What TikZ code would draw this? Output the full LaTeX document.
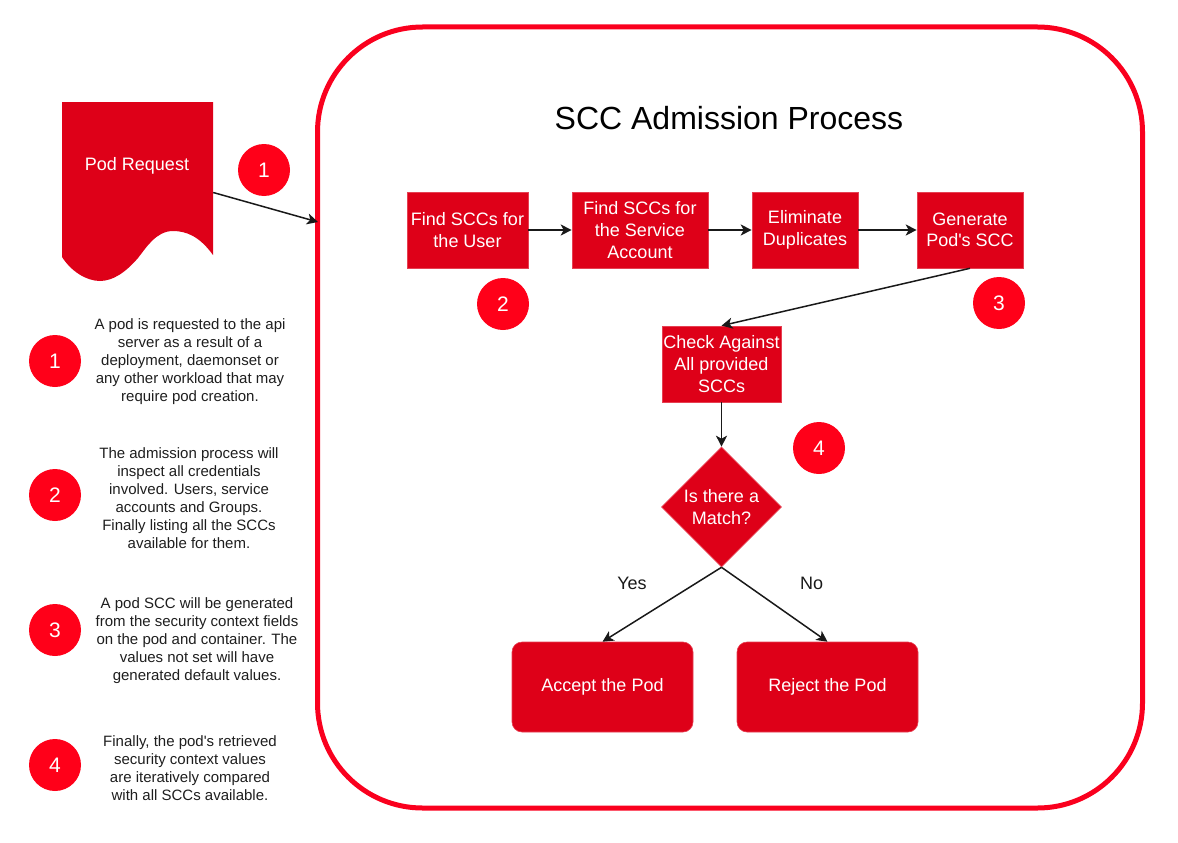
\documentclass[tikz,border=0pt]{standalone}
\usepackage{fontspec}
\setmainfont{Liberation Sans}
\usetikzlibrary{shapes.geometric,arrows.meta}

\definecolor{boxred}{RGB}{222,0,24}
\definecolor{dotred}{RGB}{255,0,25}
\definecolor{framered}{RGB}{250,0,30}
\definecolor{legendtext}{RGB}{30,30,30}

\tikzset{
  stepbox/.style={rectangle, fill=boxred, draw=boxred!75!white, line width=0.6pt,
    inner sep=0pt, text=white, align=center,
    font=\fontsize{18}{21.6}\selectfont},
  roundbox/.style={stepbox, rounded corners=10pt},
  decision/.style={diamond, shape aspect=1, fill=boxred, draw=boxred!75!white, line width=0.6pt,
    inner sep=0pt, minimum width=120pt, minimum height=120pt, text=white, align=center,
    font=\fontsize{18}{21.6}\selectfont},
  badge/.style={circle, fill=dotred, minimum size=52pt, inner sep=0pt, text=white,
    font=\fontsize{21}{24}\selectfont},
  legend/.style={align=center, text=legendtext, font=\fontsize{15}{18}\selectfont},
  flow/.style={line width=1.5pt, draw=black!90, -{Stealth[length=11pt,width=11pt,inset=3pt]}},
  label/.style={font=\fontsize{18}{21.6}\selectfont, text=black!90},
}

\begin{document}
\begin{tikzpicture}[x=1pt, y=-1pt]
  \useasboundingbox (0,0) rectangle (1178,843);

  % outer frame of the admission process
  \node (frame) [draw=framered, line width=5pt, rounded corners=105pt,
    minimum width=825pt, minimum height=781pt, inner sep=0pt] at (730,417.5) {};
  \node (title) [font=\fontsize{32}{38}\selectfont] at (729,118) {SCC Admission Process};

  % incoming pod request (document shape)
  \node (pod) [minimum width=151pt, minimum height=155pt, inner sep=0pt] at (137.5,179.5) {};
  \fill[boxred] (62,102) -- (213,102) -- (213,255)
    .. controls (200,237) and (187,231) .. (173,231)
    .. controls (156,231) and (146,248) .. (138,258)
    .. controls (126,272) and (113,281) .. (100,281)
    .. controls (86,281) and (71,271) .. (62,257) -- cycle;
  \node (podtext) [text=white, font=\fontsize{18}{21.6}\selectfont] at (137,166) {Pod Request};
  \coordinate (entry) at (318,222);
  \draw[flow] ([yshift=-13pt]pod.east) -- (entry);

  % process steps
  \node (user) [stepbox, minimum width=121pt, minimum height=76pt] at (467.5,230) {Find SCCs for\\the User};
  \node (svc) [stepbox, minimum width=136pt, minimum height=76pt] at (640,230) {Find SCCs for\\the Service\\Account};
  \node (dedup) [stepbox, minimum width=106pt, minimum height=76pt] at (805,230) {Eliminate\\Duplicates};
  \node (gen) [stepbox, minimum width=106pt, minimum height=76pt] at (970,230) {Generate\\Pod\textquotesingle s SCC};
  \node (check) [stepbox, minimum width=119pt, minimum height=76pt] at (721.5,364) {Check Against\\All provided\\SCCs};
  \node (match) [decision] at (721.5,507) {Is there a\\Match?};
  \node (accept) [roundbox, minimum width=181pt, minimum height=90pt] at (602.5,687) {Accept the Pod};
  \node (reject) [roundbox, minimum width=181pt, minimum height=90pt] at (827.5,687) {Reject the Pod};

  \draw[flow] (user) -- (svc);
  \draw[flow] (svc) -- (dedup);
  \draw[flow] (dedup) -- (gen);
  \draw[flow] (gen.south) -- (check.north);
  \draw[flow] (check.south) -- (match.north);
  \draw[flow] (match.south) -- (accept.north);
  \draw[flow] (match.south) -- (reject.north);
  \node (yes) [label] at (632,583) {Yes};
  \node (no) [label] at (811.5,583) {No};

  % step markers
  \node (m1) [badge] at (264,170) {1};
  \node (m2) [badge] at (503,304) {2};
  \node (m3) [badge] at (999,303) {3};
  \node (m4) [badge] at (819,448) {4};

  % legend
  \node (l1) [badge] at (55,361) {1};
  \node (l2) [badge] at (55,495) {2};
  \node (l3) [badge] at (55,630) {3};
  \node (l4) [badge] at (55,765) {4};
  \node (t1) [legend] at (190,362) {A pod is requested to the api\\server as a result of a\\deployment, daemonset or\\any other workload that may\\require pod creation.};
  \node (t2) [legend] at (189,498) {The admission process will\\inspect all credentials\\involved. Users, service\\accounts and Groups.\\Finally listing all the SCCs\\available for them.};
  \node (t3) [legend] at (197,641) {A pod SCC will be generated\\from the security context fields\\on the pod and container. The\\values not set will have\\generated default values.};
  \node (t4) [legend] at (190,768) {Finally, the pod\textquotesingle s retrieved\\security context values\\are iteratively compared\\with all SCCs available.};
\end{tikzpicture}
\end{document}
